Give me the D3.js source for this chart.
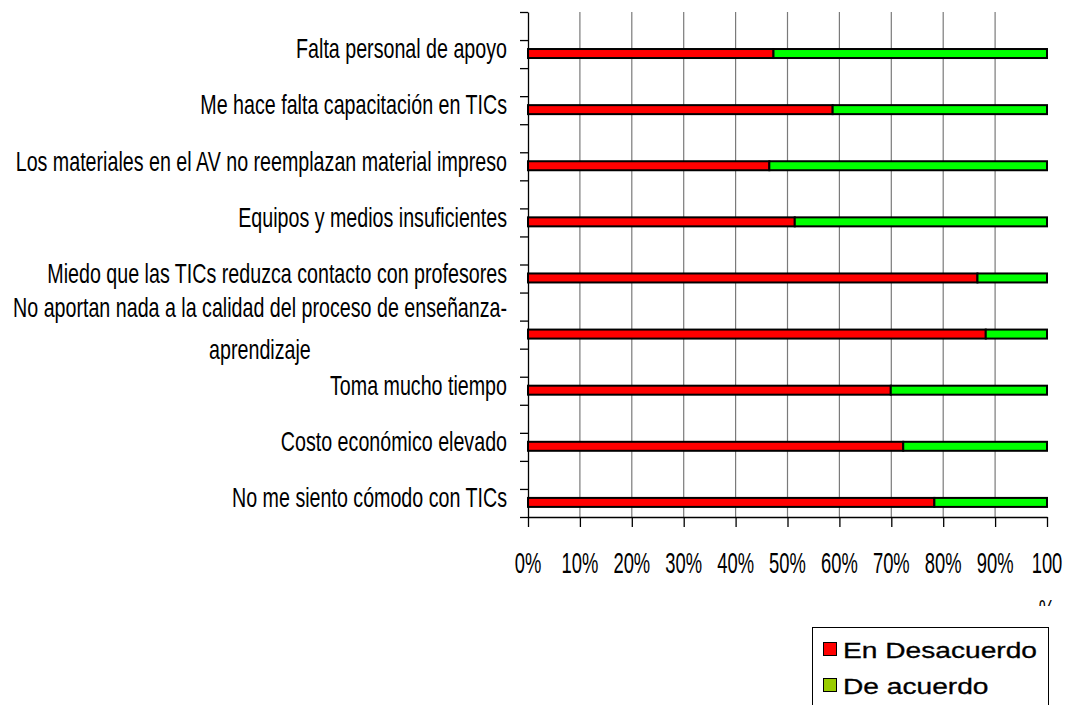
<!DOCTYPE html>
<html>
<head>
<meta charset="utf-8">
<script src="https://cdn.jsdelivr.net/npm/d3@7/dist/d3.min.js"></script>
<style>
  body { margin: 0; background: #fff; }
  svg { display: block; }
</style>
</head>
<body>
<svg id="chart" width="1067" height="705"></svg>
<script>
// categories, top to bottom
const categories = [
  "Falta personal de apoyo",
  "Me hace falta capacitación en TICs",
  "Los materiales en el AV no reemplazan material impreso",
  "Equipos y medios insuficientes",
  "Miedo que las TICs reduzca contacto con profesores",
  "No aportan nada a la calidad del proceso de enseñanza-\naprendizaje",
  "Toma mucho tiempo",
  "Costo económico elevado",
  "No me siento cómodo con TICs"
];
const seriesNames = ["En Desacuerdo", "De acuerdo"];
const desacuerdo = [47.3, 58.7, 46.5, 51.4, 86.6, 88.2, 69.9, 72.3, 78.3];
const deAcuerdo = [52.7, 41.3, 53.5, 48.6, 13.4, 11.8, 30.1, 27.7, 21.7];
const xTicks = [0, 10, 20, 30, 40, 50, 60, 70, 80, 90, 100];
const barColors = ["#ff0000", "#00ff00"];
const legendColors = ["#ff0000", "#99cc00"];

const svg = d3.select("#chart");
const plotL = 528, plotR = 1047, plotT = 12, plotB = 517;

const x = d3.scaleLinear().domain([0, 100]).range([plotL, plotR]);
const y = d3.scaleBand().domain(categories).range([plotT, plotB]);
const bw = y.bandwidth();
const barH = 9;
const barMid = c => y(c) + bw * 0.74;

const rows = categories.map((c, i) => ({
  cat: c,
  "En Desacuerdo": desacuerdo[i],
  "De acuerdo": deAcuerdo[i]
}));
const stacked = d3.stack().keys(seriesNames)(rows);

// vertical gridlines
svg.append("g")
  .selectAll("line")
  .data(xTicks.slice(1, -1))
  .join("line")
    .attr("x1", d => x(d)).attr("x2", d => x(d))
    .attr("y1", plotT).attr("y2", plotB)
    .attr("stroke", "#7a7a7a")
    .attr("stroke-width", 1.2);

// y axis: ticks at every half band
const yIdx = d3.scaleLinear().domain([0, categories.length]).range([plotT, plotB]);
const yAxis = svg.append("g")
  .attr("transform", `translate(${plotL},0)`)
  .call(d3.axisLeft(yIdx).tickValues(d3.range(0, categories.length + 0.5, 0.5)).tickSize(8).tickSizeOuter(0).tickFormat(""));
yAxis.selectAll("path, line").attr("stroke", "#000").attr("stroke-width", 1.3);

// x axis
const xAxis = svg.append("g")
  .attr("transform", `translate(0,${plotB})`)
  .call(d3.axisBottom(x).tickValues(xTicks).tickSize(10).tickSizeOuter(0).tickFormat(""));
xAxis.selectAll("path, line").attr("stroke", "#000").attr("stroke-width", 1.3);

// bars
svg.append("g")
  .selectAll("g")
  .data(stacked)
  .join("g")
    .attr("fill", (d, i) => barColors[i])
  .selectAll("rect")
  .data(d => d)
  .join("rect")
    .attr("x", d => x(d[0]))
    .attr("y", d => barMid(d.data.cat) - barH / 2)
    .attr("width", d => x(d[1]) - x(d[0]))
    .attr("height", barH)
    .attr("stroke", "#000")
    .attr("stroke-width", 2);

// category labels (condensed look)
const labelFont = "'Liberation Sans', Arial, sans-serif";
const labelX = 507;
const sx = 0.855, sy = 1.22;
const labels = svg.append("g")
  .attr("font-family", labelFont)
  .attr("font-size", 23)
  .attr("fill", "#000");

categories.forEach(c => {
  const lines = c.split("\n");
  const cy = barMid(c) - 5;
  if (lines.length === 1) {
    labels.append("text")
      .attr("transform", `translate(${labelX},${cy}) scale(${sx},${sy})`)
      .attr("text-anchor", "end")
      .attr("dy", "0.35em")
      .text(lines[0]);
  } else {
    const t1 = labels.append("text")
      .attr("text-anchor", "end")
      .attr("dy", "0.35em")
      .text(lines[0]);
    const w = t1.node().getComputedTextLength() * sx;
    t1.attr("transform", `translate(${labelX},${cy - 22}) scale(${sx},${sy})`);
    labels.append("text")
      .attr("transform", `translate(${labelX - w / 2},${cy + 20}) scale(${sx},${sy})`)
      .attr("text-anchor", "middle")
      .attr("dy", "0.35em")
      .text(lines[1]);
  }
});

// x tick labels
svg.append("defs").append("clipPath").attr("id", "tickclip")
  .append("rect").attr("x", 0).attr("y", 0).attr("width", 1067).attr("height", 606);

const tl = svg.append("g")
  .attr("clip-path", "url(#tickclip)")
  .attr("font-family", labelFont)
  .attr("font-size", 23)
  .attr("fill", "#000");
xTicks.forEach(t => {
  const parts = t === 100 ? ["100", "%"] : [t + "%"];
  parts.forEach((p, j) => {
    tl.append("text")
      .attr("transform", `translate(${x(t)},${563 + j * 47}) scale(0.8,1.3)`)
      .attr("text-anchor", "middle")
      .attr("dy", "0.35em")
      .text(p);
  });
});

// legend
const legend = svg.append("g");
legend.append("rect")
  .attr("x", 812.5).attr("y", 627.5)
  .attr("width", 236).attr("height", 100)
  .attr("fill", "#fff").attr("stroke", "#000").attr("stroke-width", 1);
seriesNames.forEach((s, i) => {
  const ly = 650 + i * 36;
  legend.append("rect")
    .attr("x", 823.5).attr("y", ly - 7.5)
    .attr("width", 13).attr("height", 13)
    .attr("fill", legendColors[i]).attr("stroke", "#000").attr("stroke-width", 1);
  legend.append("text")
    .attr("transform", `translate(843,${ly}) scale(1.28,1)`)
    .attr("dy", "0.36em")
    .attr("font-family", "'Liberation Sans', Arial, sans-serif")
    .attr("font-size", 22)
    .attr("fill", "#000")
    .attr("stroke", "#000")
    .attr("stroke-width", 0.3)
    .text(s);
});
</script>
</body>
</html>
